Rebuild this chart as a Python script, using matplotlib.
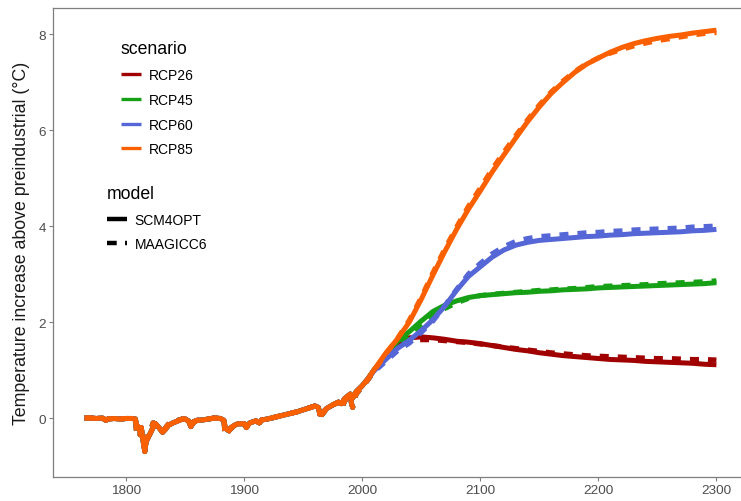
import matplotlib.pyplot as plt
from matplotlib.lines import Line2D

plt.rcParams["font.family"] = ["Liberation Sans", "DejaVu Sans"]
plt.rcParams["lines.scale_dashes"] = False

# shared historical period (both models)
hist_years = [1765, 1770, 1775, 1780, 1783, 1785, 1790, 1795, 1800, 1805, 1808,
              1809, 1811, 1812, 1813, 1815, 1816, 1817, 1819, 1821, 1823, 1825,
              1828, 1831, 1833, 1836, 1840, 1845, 1848, 1850, 1853, 1855, 1857,
              1860, 1865, 1870, 1875, 1880, 1883, 1884, 1886, 1889, 1892, 1895,
              1900, 1902, 1905, 1910, 1913, 1915, 1920, 1925, 1930, 1935, 1940,
              1945, 1950, 1955, 1960, 1963, 1964, 1966, 1968, 1970, 1975, 1980,
              1982, 1983, 1985, 1990, 1991, 1992, 1993, 1995, 2000, 2005]
hist_scm4opt = [0.0, 0.0, -0.01, 0.0, -0.05, -0.02, -0.01, -0.02, -0.01, -0.01, -0.02,
                -0.15, -0.2, -0.3, -0.2, -0.55, -0.7, -0.5, -0.4, -0.3, -0.2, -0.12,
                -0.2, -0.3, -0.25, -0.15, -0.1, -0.05, -0.02, -0.02, -0.06, -0.18, -0.1,
                -0.05, -0.04, -0.02, 0.0, -0.01, -0.05, -0.2, -0.25, -0.2, -0.15, -0.12,
                -0.12, -0.18, -0.1, -0.06, -0.1, -0.04, -0.02, 0.01, 0.04, 0.07, 0.1,
                0.13, 0.17, 0.21, 0.25, 0.22, 0.1, 0.08, 0.15, 0.2, 0.27, 0.33,
                0.3, 0.3, 0.4, 0.5, 0.4, 0.42, 0.45, 0.55, 0.67, 0.82]
hist_magicc6 = [0.0, 0.0, -0.01, 0.0, -0.04, -0.02, -0.01, -0.02, -0.01, -0.01, -0.02,
                -0.3, -0.25, -0.35, -0.2, -0.5, -0.65, -0.45, -0.35, -0.25, -0.1, -0.12,
                -0.2, -0.28, -0.22, -0.13, -0.08, -0.04, -0.02, -0.02, -0.06, -0.15, -0.08,
                -0.05, -0.04, -0.02, 0.0, -0.01, -0.05, -0.37, -0.3, -0.22, -0.15, -0.12,
                -0.12, -0.2, -0.1, -0.06, -0.1, -0.04, -0.02, 0.01, 0.04, 0.07, 0.1,
                0.13, 0.17, 0.21, 0.25, 0.2, 0.08, 0.07, 0.13, 0.2, 0.27, 0.33,
                0.25, 0.19, 0.35, 0.48, 0.3, 0.22, 0.35, 0.5, 0.65, 0.8]

future_years = list(range(2010, 2301, 10))

scenarios = ["RCP26", "RCP45", "RCP60", "RCP85"]
colors = ["#A00000", "#16A016", "#5566D6", "#FA5F00"]

scm4opt = {
    "RCP26": [1.0, 1.3, 1.55, 1.67, 1.69, 1.67, 1.64, 1.6, 1.58, 1.55, 1.51, 1.47, 1.43, 1.4, 1.36,
              1.33, 1.3, 1.28, 1.26, 1.24, 1.22, 1.21, 1.2, 1.18, 1.17, 1.16, 1.15, 1.14, 1.12, 1.11],
    "RCP45": [1.0, 1.3, 1.6, 1.8, 2.02, 2.22, 2.35, 2.44, 2.51, 2.55, 2.57, 2.59, 2.61, 2.62, 2.64,
              2.65, 2.67, 2.68, 2.69, 2.71, 2.72, 2.73, 2.74, 2.75, 2.76, 2.77, 2.78, 2.79, 2.8, 2.82],
    "RCP60": [0.98, 1.22, 1.45, 1.62, 1.82, 2.05, 2.33, 2.66, 2.95, 3.15, 3.35, 3.5, 3.6, 3.66, 3.7,
              3.72, 3.74, 3.76, 3.78, 3.79, 3.81, 3.82, 3.84, 3.85, 3.86, 3.87, 3.88, 3.9, 3.91, 3.93],
    "RCP85": [1.0, 1.35, 1.65, 2.0, 2.47, 2.98, 3.47, 3.93, 4.35, 4.73, 5.12, 5.48, 5.83, 6.17, 6.48,
              6.76, 6.99, 7.2, 7.37, 7.5, 7.62, 7.72, 7.8, 7.86, 7.91, 7.95, 7.98, 8.02, 8.05, 8.08],
}
magicc6 = {
    "RCP26": [0.98, 1.27, 1.5, 1.6, 1.63, 1.63, 1.61, 1.59, 1.57, 1.54, 1.51, 1.48, 1.45, 1.42, 1.39,
              1.36, 1.34, 1.32, 1.3, 1.29, 1.28, 1.27, 1.26, 1.25, 1.24, 1.24, 1.23, 1.22, 1.22, 1.21],
    "RCP45": [0.98, 1.27, 1.55, 1.74, 1.93, 2.12, 2.28, 2.4, 2.49, 2.55, 2.58, 2.6, 2.62, 2.64, 2.66,
              2.67, 2.69, 2.7, 2.72, 2.74, 2.75, 2.76, 2.77, 2.78, 2.8, 2.81, 2.82, 2.83, 2.84, 2.86],
    "RCP60": [0.96, 1.18, 1.4, 1.56, 1.78, 2.02, 2.34, 2.68, 3.0, 3.22, 3.42, 3.57, 3.68, 3.74, 3.78,
              3.8, 3.82, 3.84, 3.86, 3.87, 3.89, 3.9, 3.92, 3.93, 3.94, 3.95, 3.96, 3.98, 3.99, 4.0],
    "RCP85": [0.98, 1.33, 1.66, 2.04, 2.51, 3.03, 3.52, 3.98, 4.41, 4.79, 5.18, 5.54, 5.88, 6.21, 6.52,
              6.79, 7.02, 7.22, 7.38, 7.5, 7.6, 7.68, 7.75, 7.81, 7.86, 7.9, 7.94, 7.98, 8.01, 8.03],
}

fig = plt.figure(figsize=(7.41, 5.02), dpi=100)
ax = fig.add_axes([53 / 741, 24 / 502, 695 / 741, 469 / 502])

lw = 3.6
for sc, col in zip(scenarios, colors):
    yrs = hist_years + future_years
    ax.plot(yrs, hist_magicc6 + magicc6[sc], color=col, lw=lw,
            dashes=(6.5, 6.5), solid_capstyle="butt", dash_capstyle="butt")
    ax.plot(yrs, hist_scm4opt + scm4opt[sc], color=col, lw=lw, solid_capstyle="butt")

ax.set_xlim(1738.25, 2326.75)
ax.set_ylim(-1.229, 8.542)
ax.set_xticks([1800, 1900, 2000, 2100, 2200, 2300])
ax.set_yticks([0, 2, 4, 6, 8])
ax.tick_params(length=3, width=0.8, color="#7F7F7F", labelsize=9.7,
               labelcolor="#4D4D4D", pad=2)
for s in ax.spines.values():
    s.set_color("#7F7F7F")
    s.set_linewidth(0.9)
ax.set_ylabel("Temperature increase above preindustrial (\u00b0C)", fontsize=12.8,
              color="#1A1A1A", labelpad=6)

# legends
sc_handles = [Line2D([], [], color=c, lw=2.4, solid_capstyle="butt") for c in colors]
leg1 = ax.legend(sc_handles, scenarios, title="scenario", loc="upper left",
                 bbox_to_anchor=(121 / 741, 1 - 41 / 502), bbox_transform=fig.transFigure,
                 frameon=False, fontsize=10, title_fontsize=12.7, handlelength=1.45,
                 handletextpad=0.55, labelspacing=0.78, borderpad=0, borderaxespad=0,
                 alignment="left")
ax.add_artist(leg1)

md_handles = [Line2D([], [], color="black", lw=3.2, solid_capstyle="butt"),
              Line2D([], [], color="black", lw=3.2, dashes=(7.0, 6.0), dash_capstyle="butt")]
ax.legend(md_handles, ["SCM4OPT", "MAAGICC6"], title="model", loc="upper left",
          bbox_to_anchor=(107 / 741, 1 - 186 / 502), bbox_transform=fig.transFigure,
          frameon=False, fontsize=10, title_fontsize=12.7, handlelength=1.45,
          handletextpad=0.55, labelspacing=0.76, borderpad=0, borderaxespad=0,
          alignment="left")

fig.savefig("out.png", dpi=100)
